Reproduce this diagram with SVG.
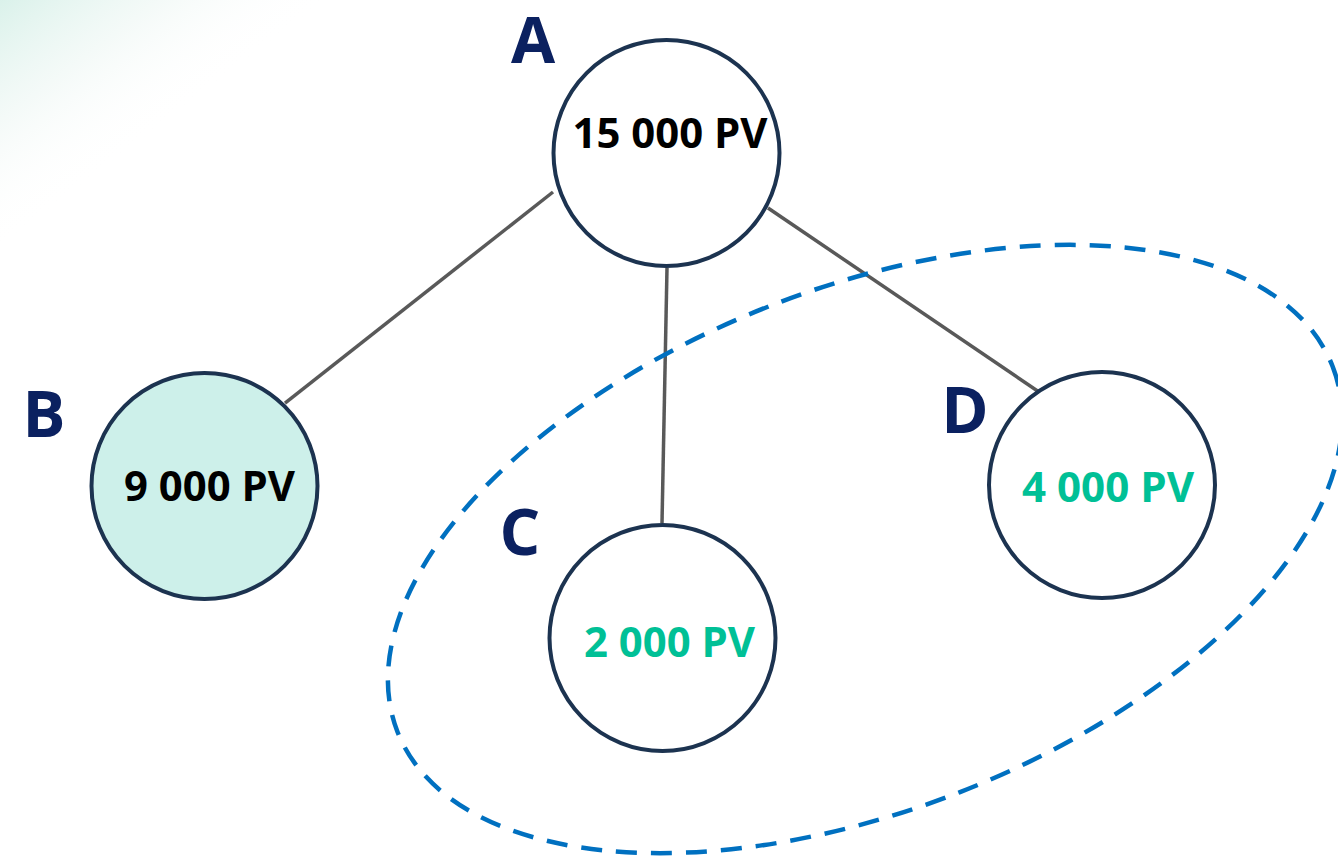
<svg xmlns="http://www.w3.org/2000/svg" width="1338" height="857" viewBox="0 0 1338 857">
<style>
.node{fill:#ffffff;stroke:#1c3350;stroke-width:4}
.val{font-family:"Open Sans","Liberation Sans",sans-serif;font-weight:700;font-size:41px;text-anchor:middle}
.lbl{font-family:"Open Sans","Liberation Sans",sans-serif;font-weight:700;font-size:64px;fill:#0b2160;text-anchor:middle}
.conn{stroke:#595959;stroke-width:3.5;fill:none}
.green{fill:#00c096}
.black{fill:#000000}
</style>
<defs>
<linearGradient id="bg" x1="0" y1="0" x2="0.5" y2="0.5">
<stop offset="0" stop-color="#d6f0e8" stop-opacity="0.9"/>
<stop offset="0.5" stop-color="#eef7f4" stop-opacity="0.6"/>
<stop offset="1" stop-color="#ffffff" stop-opacity="0"/>
</linearGradient>
</defs>
<rect width="1338" height="857" fill="#ffffff"/>
<polygon points="0,0 330,0 0,250" fill="url(#bg)"/>
<g id="connectors">
<line class="conn" x1="553" y1="192" x2="285" y2="403"/>
<line class="conn" x1="667" y1="268" x2="662" y2="523"/>
<line class="conn" x1="768" y1="208" x2="1042" y2="394"/>
</g>
<g id="group-ellipse">
<ellipse cx="865" cy="549" rx="502" ry="261" transform="rotate(-21.35 865 549)" fill="none" stroke="#0070c0" stroke-width="4.5" stroke-dasharray="21 14"/>
</g>
<g id="node-A">
<circle class="node" cx="666.5" cy="153" r="113"/>
<text class="val black" x="670" y="148" textLength="195" lengthAdjust="spacingAndGlyphs">15 000 PV</text>
<text class="lbl" x="533" y="63">A</text>
</g>
<g id="node-B">
<circle class="node" cx="204.5" cy="486" r="113" style="fill:#cdf0ea"/>
<text class="val black" x="209.5" y="501" textLength="171" lengthAdjust="spacingAndGlyphs">9 000 PV</text>
<text class="lbl" x="44" y="437">B</text>
</g>
<g id="node-C">
<circle class="node" cx="662.5" cy="638" r="113"/>
<text class="val green" x="669.5" y="657" textLength="171" lengthAdjust="spacingAndGlyphs">2 000 PV</text>
<text class="lbl" x="520" y="555">C</text>
</g>
<g id="node-D">
<circle class="node" cx="1102" cy="485" r="113"/>
<text class="val green" x="1108" y="502" textLength="172" lengthAdjust="spacingAndGlyphs">4 000 PV</text>
<text class="lbl" x="965" y="433">D</text>
</g>
</svg>
